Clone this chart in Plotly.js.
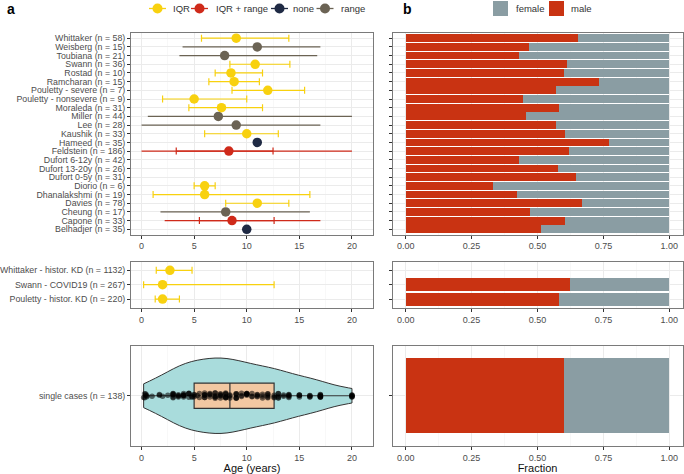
<!DOCTYPE html>
<html>
<head>
<meta charset="utf-8">
<script src="https://cdn.plot.ly/plotly-3.0.1.min.js"></script>
<style>html,body{margin:0;padding:0;background:#fff;}#chart{width:684px;height:474px;}</style>
</head>
<body>
<div id="chart"></div>
<script>
// ---------- data ----------
const studies = ['Whittaker (n = 58)','Weisberg (n = 15)','Toubiana (n = 21)','Swann (n = 36)','Rostad (n = 10)','Ramcharan (n = 15)','Pouletty - severe (n = 7)','Pouletty - nonsevere (n = 9)','Moraleda (n = 31)','Miller (n = 44)','Lee (n = 28)','Kaushik (n = 33)','Hameed (n = 35)','Feldstein (n = 186)','Dufort 6-12y (n = 42)','Dufort 13-20y (n = 26)','Dufort 0-5y (n = 31)','Diorio (n = 6)','Dhanalakshmi (n = 19)','Davies (n = 78)','Cheung (n = 17)','Capone (n = 33)','Belhadjer (n = 35)'];
const ageType = ['IQR','range','range','IQR','IQR','IQR','IQR','IQR','IQR','range','range','IQR','none','IQR + range',null,null,null,'IQR','IQR','IQR','range','IQR + range','none'];
const ageMid  = [9,11,7.9,10.8,8.5,8.8,12,5,7.6,7.3,9,10,11,8.3,null,null,null,6,6,11,8,8.6,10];
const iqrLo   = [5.7,null,null,8.4,7,6.4,8.6,2,4.5,null,null,6,null,3.3,null,null,null,5,1.1,8,null,5.5,null];
const iqrHi   = [14,null,null,14.1,11.5,11.2,15.5,10,11.5,null,null,13,null,12.5,null,null,null,7,16,14,null,12.6,null];
const rangeLo = [null,3.9,3.6,null,null,null,null,null,null,0.6,0,null,null,0,null,null,null,null,null,null,1.8,2.2,null];
const rangeHi = [null,17,16.7,null,null,null,null,null,null,20,17,null,null,20,null,null,null,null,null,null,16,17,null];
const maleFrac = [0.655,0.467,0.429,0.611,0.600,0.733,0.571,0.444,0.581,0.455,0.571,0.606,0.771,0.618,0.429,0.577,0.645,0.333,0.421,0.667,0.471,0.606,0.514];

const histStudies = ['Whittaker - histor. KD (n = 1132)','Swann - COVID19 (n = 267)','Pouletty - histor. KD (n = 220)'];
const histMid   = [2.7,2,2];
const histIqrLo = [1.4,0.2,1.3];
const histIqrHi = [4.8,12.6,3.6];
const histMale  = [null,0.622,0.582];

const singleLabel = ['single cases (n = 138)'];
const caseAges = [0.2,0.3,0.3,0.4,0.4,0.5,0.5,1.0,
 1.7,1.7,2,2.5,3,3,3,3,3,3,3.5,3.5,3.5,3.5,
 4,4,4,4,4,4,4.5,4.5,4.5,4.5,4.8,4.8,
 5,5,5,5.3,5.5,5.5,6,6,6,6,6,6,
 6.5,6.5,6.5,6.5,7,7,7,7,7,7,7.5,7.5,7.5,7.5,7.5,8,8,8,8,8,8,8,8.4,8.4,8.4,
 9,9,9,9,9,9,9.5,9.5,9.5,10,10,10,10,10,10,10.5,10.5,10.5,11,11,11,11,
 11.5,11.5,11.5,12,12,12,12,12,12.6,12.6,12.6,13,13,13,13,13,13.5,13.5,
 14,14,14,14,14,15,15,15,15,16,16,16,16,
 17,17,17,17,17,17,17,17,20,20,20,20,20,20];
const singleMale = [0.601];

const typeNames = ['IQR','IQR + range','none','range'];
const sexNames = ['female','male'];

// ---------- styling ----------
const W = 684, H = 474;
const px = x => x / W, py = y => 1 - y / H;
const C = {IQR:'#F8D10F', IQRrange:'#CF2A1A', none:'#1F2A44', range:'#6B6354',
           male:'#C93312', female:'#8A9DA3', violin:'#A9DCDC', box:'#F2C8A2'};
const GRID = '#EBEBEB', MINOR = '#F4F4F4', BORDER = '#7A7A7A', TXT = '#4D4D4D';
const FONT = 'Liberation Sans, Arial, sans-serif';

const sel = (arr, t) => arr.map((v, i) => ageType[i] === t ? v : null);
const diffHi = (hi, t) => ageMid.map((m, i) => ageType[i] === t && hi[i] != null ? hi[i] - m : null);
const diffLo = (lo, t) => ageMid.map((m, i) => ageType[i] === t && lo[i] != null ? m - lo[i] : null);

const traces = [];
function ebar(x, y, plus, minus, color, cap, xa, ya, msize, mopac) {
  traces.push({type:'scatter', mode:'markers', x:x, y:y, xaxis:xa, yaxis:ya,
    marker:{color:color, size:msize, opacity:mopac},
    error_x:{type:'data', symmetric:false, array:plus, arrayminus:minus, color:color, thickness:1.2, width:cap},
    showlegend:false, hoverinfo:'skip', cliponaxis:false});
}
// top-left panel
ebar(sel(ageMid,'range'), studies, diffHi(rangeHi,'range'), diffLo(rangeLo,'range'), C.range, 0, 'x', 'y', 9.5, 1);
ebar(sel(ageMid,'IQR + range'), studies, diffHi(rangeHi,'IQR + range'), diffLo(rangeLo,'IQR + range'), C.IQRrange, 0, 'x', 'y', 1, 0);
ebar(sel(ageMid,'IQR + range'), studies, diffHi(iqrHi,'IQR + range'), diffLo(iqrLo,'IQR + range'), C.IQRrange, 3.5, 'x', 'y', 9.5, 1);
ebar(sel(ageMid,'IQR'), studies, diffHi(iqrHi,'IQR'), diffLo(iqrLo,'IQR'), C.IQR, 3.5, 'x', 'y', 9.5, 1);
traces.push({type:'scatter', mode:'markers', x:sel(ageMid,'none'), y:studies, xaxis:'x', yaxis:'y',
  marker:{color:C.none, size:9.5}, showlegend:false, hoverinfo:'skip'});
// mid-left panel
ebar(histMid, histStudies, histMid.map((m,i)=>histIqrHi[i]-m), histMid.map((m,i)=>m-histIqrLo[i]), C.IQR, 3.5, 'x2', 'y2', 9.5, 1);
// bottom-left: violin + box + points
traces.push({type:'violin', orientation:'h', x:caseAges, y:caseAges.map(()=>singleLabel[0]), xaxis:'x3', yaxis:'y3',
  fillcolor:C.violin, line:{color:'#333333', width:1}, spanmode:'hard', scalemode:'width', width:0.9, bandwidth:1.7,
  points:false, box:{visible:false}, meanline:{visible:false}, showlegend:false, hoverinfo:'skip', opacity:1});
traces.push({type:'box', orientation:'h', x:caseAges, y:caseAges.map(()=>singleLabel[0]), xaxis:'x3', yaxis:'y3',
  fillcolor:C.box, line:{color:'#333333', width:1.2}, width:0.3, whiskerwidth:0, quartilemethod:'linear',
  boxpoints:'all', jitter:0.25, pointpos:0, marker:{color:'rgba(0,0,0,0.55)', size:5.5},
  showlegend:false, hoverinfo:'skip'});
// right bars
function bars(y, male, xa, ya) {
  traces.push({type:'bar', orientation:'h', y:y, x:male, xaxis:xa, yaxis:ya, marker:{color:C.male, line:{width:0}}, showlegend:false, hoverinfo:'skip', name:'male'});
  traces.push({type:'bar', orientation:'h', y:y, x:male.map(v=>v==null?null:1-v), xaxis:xa, yaxis:ya, marker:{color:C.female, line:{width:0}}, showlegend:false, hoverinfo:'skip', name:'female'});
}
bars(studies, maleFrac, 'x4', 'y4');
bars(histStudies, histMale, 'x5', 'y5');
bars(singleLabel, singleMale, 'x6', 'y6');

// ---------- axes ----------
const LX = [px(131), px(373)], RX = [px(392.5), px(682.5)];
const TY = [py(234.5), py(33)], MY = [py(307.7), py(261.7)], BY = [py(446), py(345.5)];
function xAxis(dom, anchor, age, title) {
  const a = {domain:dom, anchor:anchor, showline:true, mirror:true, linecolor:BORDER, linewidth:1,
    ticks:'outside', ticklen:3, tickcolor:'#333', tickwidth:1, zeroline:false,
    showgrid:true, gridcolor:GRID, gridwidth:1,
    tickfont:{family:FONT, size:9, color:TXT}, fixedrange:true};
  if (age) { Object.assign(a, {range:[-1,22], tickmode:'array', tickvals:[0,5,10,15,20], minor:{tickvals:[2.5,7.5,12.5,17.5], showgrid:true, gridcolor:MINOR, gridwidth:0.6}}); }
  else { Object.assign(a, {range:[-0.05,1.05], tickmode:'array', tickvals:[0,0.25,0.5,0.75,1], ticktext:['0.00','0.25','0.50','0.75','1.00'], minor:{tickvals:[0.125,0.375,0.625,0.875], showgrid:true, gridcolor:MINOR, gridwidth:0.6}}); }
  if (title) a.title = {text:title, font:{family:FONT, size:11, color:'#111'}, standoff:3};
  return a;
}
function yAxis(dom, anchor, cats, labels) {
  return {domain:dom, anchor:anchor, type:'category', categoryorder:'array', categoryarray:cats,
    tickmode:'array', tickvals:cats, ticktext:cats,
    range:[cats.length - 0.4, -0.6], showline:true, mirror:true, linecolor:BORDER, linewidth:1,
    ticks:'outside', ticklen:3, tickcolor:'#333', tickwidth:1, showticklabels:labels,
    showgrid:true, gridcolor:GRID, gridwidth:1, zeroline:false,
    tickfont:{family:FONT, size:8.8, color:TXT}, fixedrange:true};
}

// ---------- hand-drawn legends ----------
const shapes = [], annotations = [];
const legY = 8.5;
const legA = [[157.5, C.IQR], [199.5, C.IQRrange], [279.5, C.none], [325, C.range]];
const legAText = [171, 214, 291, 339];
legA.forEach(([cx, col], i) => {
  shapes.push({type:'line', xref:'paper', yref:'paper', x0:px(cx-8.5), x1:px(cx+8.5), y0:py(legY), y1:py(legY), line:{color:col, width:1.3}});
  shapes.push({type:'circle', xref:'paper', yref:'paper', xsizemode:'pixel', ysizemode:'pixel', xanchor:px(cx), yanchor:py(legY), x0:-5, x1:5, y0:-5, y1:5, fillcolor:col, line:{width:0}});
  annotations.push({xref:'paper', yref:'paper', x:px(legAText[i]), y:py(legY), xanchor:'left', yanchor:'middle', showarrow:false, text:typeNames[i], font:{family:FONT, size:9.5, color:'#333'}});
});
const legB = [[493, C.female, 514], [549, C.male, 569]];
legB.forEach(([x0, col, tx], i) => {
  shapes.push({type:'rect', xref:'paper', yref:'paper', x0:px(x0), x1:px(x0+15), y0:py(16), y1:py(1), fillcolor:col, line:{width:0}});
  annotations.push({xref:'paper', yref:'paper', x:px(tx), y:py(legY), xanchor:'left', yanchor:'middle', showarrow:false, text:sexNames[i], font:{family:FONT, size:9.5, color:'#333'}});
});
annotations.push({xref:'paper', yref:'paper', x:px(5), y:py(9), xanchor:'left', yanchor:'middle', showarrow:false, text:'<b>a</b>', font:{family:FONT, size:14, color:'#000'}});
annotations.push({xref:'paper', yref:'paper', x:px(401), y:py(9), xanchor:'left', yanchor:'middle', showarrow:false, text:'<b>b</b>', font:{family:FONT, size:14, color:'#000'}});

const layout = {
  width:W, height:H, margin:{l:0, r:0, t:0, b:0}, paper_bgcolor:'#fff', plot_bgcolor:'#fff',
  showlegend:false, hovermode:false, barmode:'stack', bargap:0.1, boxmode:'overlay', violinmode:'overlay',
  font:{family:FONT, size:9, color:TXT},
  xaxis:xAxis(LX,'y',true), yaxis:yAxis(TY,'x',studies,true),
  xaxis2:xAxis(LX,'y2',true), yaxis2:yAxis(MY,'x2',histStudies,true),
  xaxis3:xAxis(LX,'y3',true,'Age (years)'), yaxis3:yAxis(BY,'x3',singleLabel,true),
  xaxis4:xAxis(RX,'y4',false), yaxis4:yAxis(TY,'x4',studies,false),
  xaxis5:xAxis(RX,'y5',false), yaxis5:yAxis(MY,'x5',histStudies,false),
  xaxis6:xAxis(RX,'y6',false,'Fraction'), yaxis6:yAxis(BY,'x6',singleLabel,false),
  shapes:shapes, annotations:annotations
};
Plotly.newPlot('chart', traces, layout, {staticPlot:true, displayModeBar:false});
</script>
</body>
</html>
